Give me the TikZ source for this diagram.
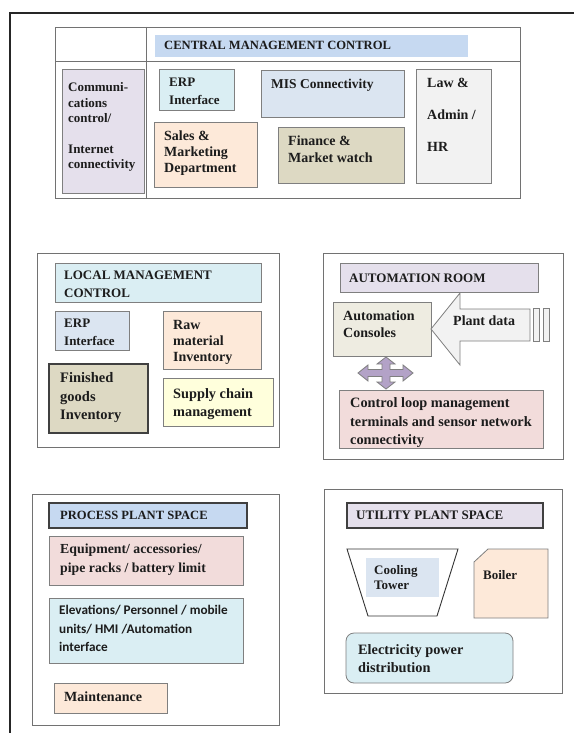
\documentclass[tikz,border=0pt]{standalone}
\usepackage{fontspec}
\setmainfont{Liberation Serif}
\newfontfamily\calib{Carlito}
\usetikzlibrary{fit}
\definecolor{hdrblue}{HTML}{C6D9F1}
\definecolor{lav}{HTML}{E5E0EC}
\definecolor{ltblue}{HTML}{DAEEF3}
\definecolor{blgray}{HTML}{DBE5F1}
\definecolor{peach}{HTML}{FDE9D9}
\definecolor{tan}{HTML}{DDD9C3}
\definecolor{lgray}{HTML}{F2F2F2}
\definecolor{pinkish}{HTML}{F2DCDB}
\definecolor{cream}{HTML}{EEECE1}
\definecolor{lyellow}{HTML}{FFFFDC}
\definecolor{purp}{HTML}{B3A2C7}
\definecolor{boxgray}{HTML}{7F7F7F}
\definecolor{txtcol}{HTML}{1C1C1C}
\newcommand\fsz[2]{\fontsize{#1}{#2}\selectfont}
\begin{document}
\begin{tikzpicture}[x=1pt,y=-1pt,
  box/.style={draw=boxgray, line width=0.8pt, inner sep=0pt},
  darkbox/.style={draw=black!75, line width=1.3pt, inner sep=0pt},
  frame/.style={draw=boxgray!90!black, line width=0.9pt, inner sep=0pt},
  nobox/.style={draw=none, inner sep=0pt},
  txt/.style={anchor=north west, inner sep=0pt, align=left, text=txtcol, font=\bfseries}]
\useasboundingbox (0,0) rectangle (574,733);
\fill[white] (0,0) rectangle (574,733);

% outer page frame
\coordinate (fa) at (10,733);
\coordinate (fb) at (10,13);
\coordinate (fc) at (574,13);
\draw[line width=2.2pt, black!85] (fa) -- (fb) -- (fc);

% ---------------- CENTRAL MANAGEMENT CONTROL ----------------
\node[frame, fit={(55,27) (520,198)}] (central) {};
\coordinate (cv1) at (146,27); \coordinate (cv2) at (146,198);
\coordinate (ch1) at (55,61); \coordinate (ch2) at (520,61);
\draw[boxgray!90!black, line width=0.9pt] (cv1) -- (cv2) (ch1) -- (ch2);
\node[nobox, fill=hdrblue, fit={(155,35) (468,57)}] (chdr) {};
\node[txt, font=\bfseries\fsz{12.6}{15}] (chdrT) at (164,41) {CENTRAL MANAGEMENT CONTROL};

\node[box, fill=lav, fit={(62,69) (144,193)}] (comm) {};
\node[txt, font=\bfseries\fsz{13}{15.4}] (commT) at (68,82.5) {Communi-\\cations\\control/\\[15.4pt]Internet\\connectivity};

\node[box, fill=ltblue, fit={(159,69) (234,110)}] (erp1) {};
\node[txt, font=\bfseries\fsz{13}{18}] (erp1T) at (169,77.5) {ERP\\Interface};

\node[box, fill=blgray, fit={(261,70) (404,117)}] (mis) {};
\node[txt, font=\bfseries\fsz{13.5}{16}] (misT) at (271,78.5) {MIS Connectivity};

\node[box, fill=peach, fit={(154,122) (257,187)}] (sales) {};
\node[txt, font=\bfseries\fsz{14}{16}] (salesT) at (164,131) {Sales \&\\Marketing\\Department};

\node[box, fill=tan, fit={(278,127) (404,183)}] (fin) {};
\node[txt, font=\bfseries\fsz{14}{17}] (finT) at (288,136) {Finance \&\\Market watch};

\node[box, fill=lgray, fit={(416,69) (491,183)}] (law) {};
\node[txt, font=\bfseries\fsz{14}{32}] (lawT) at (427,78) {Law \&\\Admin /\\HR};

% ---------------- LOCAL MANAGEMENT CONTROL ----------------
\node[frame, fit={(37,253) (279,447)}] (local) {};
\node[box, fill=ltblue, fit={(55,263) (261,302)}] (lhdr) {};
\node[txt, font=\bfseries\fsz{13}{18}] (lhdrT) at (64,270.5) {LOCAL MANAGEMENT\\CONTROL};

\node[box, fill=blgray, fit={(55,311) (129,350)}] (erp2) {};
\node[txt, font=\bfseries\fsz{13}{18}] (erp2T) at (64,318.5) {ERP\\Interface};

\node[box, fill=peach, fit={(163,311) (261,369)}] (raw) {};
\node[txt, font=\bfseries\fsz{14}{16}] (rawT) at (173,320) {Raw\\material\\Inventory};

\node[darkbox, fill=tan, fit={(49,364) (148,433)}] (fgi) {};
\node[txt, font=\bfseries\fsz{14.5}{18.5}] (fgiT) at (60,372.5) {Finished\\goods\\Inventory};

\node[box, fill=lyellow, fit={(163,378) (273,426)}] (scm) {};
\node[txt, font=\bfseries\fsz{14.3}{18}] (scmT) at (173,388) {Supply chain\\management};

% ---------------- AUTOMATION ROOM ----------------
\node[frame, fit={(323,253) (563,459)}] (auto) {};
\node[box, fill=lav, fit={(340,263) (538,292)}] (ahdr) {};
\node[txt, font=\bfseries\fsz{13}{16}] (ahdrT) at (349,273.5) {AUTOMATION ROOM};

\node[box, fill=cream, fit={(333,302) (431,356)}] (cons) {};
\node[txt, font=\bfseries\fsz{14}{17}] (consT) at (343,311) {Automation\\Consoles};

\coordinate (pa1) at (431,329);
\coordinate (pa2) at (460,293);
\coordinate (pa3) at (460,309);
\coordinate (pa4) at (530,309);
\coordinate (pa5) at (530,341);
\coordinate (pa6) at (460,341);
\coordinate (pa7) at (460,365);
\draw[boxgray, line width=0.8pt, fill=lgray] (pa1) -- (pa2) -- (pa3) -- (pa4) -- (pa5) -- (pa6) -- (pa7) -- cycle;
\node[txt, font=\bfseries\fsz{14}{16}] (plantT) at (453,315.5) {Plant data};
\node[box, fill=lgray, fit={(533,308) (539,341)}] (bar1) {};
\node[box, fill=lgray, fit={(543,308) (549,341)}] (bar2) {};

% four-way arrow
\draw[boxgray, line width=0.8pt, fill=purp]
  (386,357) -- (395,364) -- (390,364) -- (390,369.5) -- (403,369.5) -- (403,365)
  -- (413,373) -- (403,381) -- (403,376.5) -- (390,376.5) -- (390,382) -- (395,382)
  -- (386,389) -- (377,382) -- (382,382) -- (382,376.5) -- (368,376.5) -- (368,381)
  -- (358,373) -- (368,365) -- (368,369.5) -- (382,369.5) -- (382,364) -- (377,364) -- cycle;

\node[box, fill=pinkish, fit={(339,390) (543,448)}] (ctrl) {};
\node[txt, font=\bfseries\fsz{14.3}{18.5}] (ctrlT) at (350,397.5) {Control loop management\\terminals and sensor network\\connectivity};

% ---------------- PROCESS PLANT SPACE ----------------
\node[frame, fit={(32,494) (279,725)}] (proc) {};
\node[darkbox, fill=hdrblue, fit={(49,503) (247,528)}] (phdr) {};
\node[txt, font=\bfseries\fsz{12.6}{15}] (phdrT) at (60,510.5) {PROCESS PLANT SPACE};

\node[box, fill=pinkish, fit={(49,536) (243,585)}] (equip) {};
\node[txt, font=\bfseries\fsz{13.8}{19}] (equipT) at (60,544) {Equipment/ accessories/\\pipe racks / battery limit};

\node[box, fill=ltblue, fit={(49,598) (243,663)}] (elev) {};
\node[txt, font=\calib\bfseries\fsz{13.2}{18.5}] (elevT) at (59,605.5) {Elevations/ Personnel / mobile\\units/ HMI /Automation\\interface};

\node[box, fill=peach, fit={(54,683) (167,713)}] (maint) {};
\node[txt, font=\bfseries\fsz{14}{16}] (maintT) at (64,692) {Maintenance};

% ---------------- UTILITY PLANT SPACE ----------------
\node[frame, fit={(324,489) (562,693)}] (util) {};
\node[darkbox, fill=lav, fit={(347,503) (543,528)}] (uhdr) {};
\node[txt, font=\bfseries\fsz{13}{15}] (uhdrT) at (356,510.5) {UTILITY PLANT SPACE};

\coordinate (ct1) at (347,549);
\coordinate (ct2) at (458,549);
\coordinate (ct3) at (437,616);
\coordinate (ct4) at (368,616);
\draw[black!80, line width=0.9pt, fill=white] (ct1) -- (ct2) -- (ct3) -- (ct4) -- cycle;
\node[nobox, fill=blgray, fit={(366,558) (439,597)}] (cool) {};
\node[txt, font=\bfseries\fsz{13}{15}] (coolT) at (374,565.5) {Cooling\\Tower};

\coordinate (bo1) at (488,549);
\coordinate (bo2) at (548,549);
\coordinate (bo3) at (548,618);
\coordinate (bo4) at (474,618);
\coordinate (bo5) at (474,562);
\draw[boxgray, line width=0.8pt, fill=peach] (bo1) -- (bo2) -- (bo3) -- (bo4) -- (bo5) -- cycle;
\node[txt, font=\bfseries\fsz{13}{15}] (boilT) at (483,570.5) {Boiler};

\node[box, fill=ltblue, rounded corners=8pt, fit={(346,633) (513,683)}] (elec) {};
\node[txt, font=\bfseries\fsz{14.3}{18}] (elecT) at (358,644) {Electricity power\\distribution};
\end{tikzpicture}
\end{document}
